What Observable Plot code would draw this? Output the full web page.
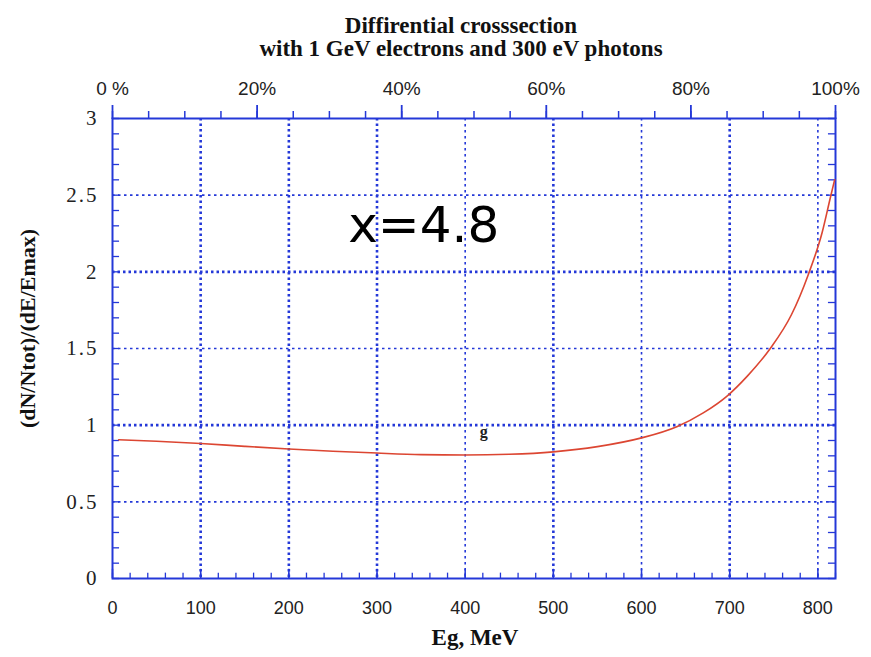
<!DOCTYPE html>
<html><head><meta charset="utf-8">
<script src="https://cdn.jsdelivr.net/npm/d3@7"></script>
<script src="https://cdn.jsdelivr.net/npm/@observablehq/plot@0.6"></script>
<style>
body{margin:0;background:#fff}
g[aria-label="y-axis tick label"] text{letter-spacing:2px}
</style>
</head><body><div id="chart"></div>
<script>
const titleLines = ["Diffirential crosssection", "with 1 GeV electrons and 300 eV photons"];
const xTitle = "Eg, MeV";
const yTitle = "(dN/Ntot)/(dE/Emax)";
const emax = 820;
// curve: Eg (MeV) and (dN/Ntot)/(dE/Emax)
const energy = [7, 50, 100, 150, 200, 250, 300, 350, 400, 450, 500, 550, 600, 640, 670, 697, 720, 746, 770, 789, 805, 814, 819];
const spectrum = [0.905, 0.895, 0.88, 0.862, 0.845, 0.83, 0.818, 0.808, 0.805, 0.81, 0.826, 0.86, 0.917, 0.99, 1.08, 1.19, 1.32, 1.5, 1.72, 1.98, 2.26, 2.48, 2.6];
const xTicks = [0, 100, 200, 300, 400, 500, 600, 700, 800];
const xTickLabels = ["0", "100", "200", "300", "400", "500", "600", "700", "800"];
const yTicks = [0, 0.5, 1, 1.5, 2, 2.5, 3];
const yTickLabels = ["0", "0.5", "1", "1.5", "2", "2.5", "3"];
const pctTicks = [0, 20, 40, 60, 80, 100];
const pctLabels = ["0 %", "20%", "40%", "60%", "80%", "100%"];
const gridXBold = [100, 200, 300, 500, 700];
const gridXThin = [400, 600, 800];
const gridYBold = [1, 2];
const gridYThin = [0.5, 1.5, 2.5];
const annotations = [{x: 353, y: 2.3, text: "x=4.8"}];
const curveLabel = [{x: 421, y: 0.955, text: "g"}];

const curve = energy.map((e, i) => ({e, v: spectrum[i]}));
const xMinor = d3.range(0, 821, 20);
const yMinor = d3.range(0, 3.001, 0.1).map(d => +d.toFixed(1));
const pctMinor = d3.range(0, 101, 5).map(p => p / 100 * emax);
const pctMajor = pctTicks.map(p => p / 100 * emax);

const blue = "#2438d8";
const serif = "'Liberation Serif', 'DejaVu Serif', serif";
const sans = "'Liberation Sans', Arial, sans-serif";

const chart = Plot.plot({
  width: 871,
  height: 657,
  marginLeft: 112,
  marginRight: 36,
  marginTop: 118,
  marginBottom: 79,
  style: {background: "#fff", color: "#222"},
  x: {domain: [0, emax]},
  y: {domain: [0, 3]},
  marks: [
    Plot.ruleX(gridXBold, {x: d => d, stroke: blue, strokeWidth: 2.6, strokeDasharray: "2.5,3"}),
    Plot.ruleX(gridXThin, {x: d => d, stroke: blue, strokeWidth: 1.6, strokeDasharray: "2.5,3.5"}),
    Plot.ruleY(gridYBold, {y: d => d, stroke: blue, strokeWidth: 2.6, strokeDasharray: "2.5,3"}),
    Plot.ruleY(gridYThin, {y: d => d, stroke: blue, strokeWidth: 1.6, strokeDasharray: "2.5,3.5"}),
    // inward ticks on bottom
    Plot.ruleX(xMinor, {x: d => d, y1: 0, y2: 0.035, stroke: blue, strokeWidth: 1.3}),
    Plot.ruleX(xTicks, {x: d => d, y1: 0, y2: 0.06, stroke: blue, strokeWidth: 1.5}),
    // inward ticks on left and right
    Plot.ruleY(yMinor, {y: d => d, x1: 0, x2: 8, stroke: blue, strokeWidth: 1.3}),
    Plot.ruleY(yMinor, {y: d => d, x1: emax - 8, x2: emax, stroke: blue, strokeWidth: 1.3}),
    // top ticks (outward)
    Plot.axisX(pctMinor, {anchor: "top", tickSize: 8, tickFormat: () => "", stroke: blue, strokeWidth: 1.5, label: null}),
    Plot.axisX(pctMajor, {anchor: "top", tickSize: 14, tickPadding: 10, stroke: blue, strokeWidth: 1.8,
      tickFormat: (d, i) => pctLabels[i], fontSize: 19, fontFamily: sans, label: null}),
    // bottom labels
    Plot.axisX(xTicks, {anchor: "bottom", tickSize: 0, tickPadding: 23,
      tickFormat: (d, i) => xTickLabels[i], fontSize: 18, fontFamily: sans, label: null}),
    // left labels
    Plot.axisY(yTicks, {anchor: "left", tickSize: 0, tickPadding: 14,
      tickFormat: (d, i) => yTickLabels[i], fontSize: 21, fontFamily: serif, label: null}),
    Plot.frame({stroke: blue, strokeWidth: 2}),
    Plot.line(curve, {x: "e", y: "v", stroke: "#dc4632", strokeWidth: 1.6, curve: "monotone-x"}),
    Plot.text(annotations, {x: "x", y: "y", text: "text", fontSize: 50, fontFamily: "'DejaVu Sans', sans-serif", fill: "#000"}),
    Plot.text(curveLabel, {x: "x", y: "y", text: "text", fontSize: 16, fontWeight: "bold", fontFamily: serif, fill: "#222"}),
    // titles
    Plot.text([titleLines[0]], {frameAnchor: "top", text: d => d, dx: -13, dy: -102, fontSize: 23, fontWeight: "bold", fontFamily: serif, fill: "#111"}),
    Plot.text([titleLines[1]], {frameAnchor: "top", text: d => d, dx: -13, dy: -79, fontSize: 23, fontWeight: "bold", fontFamily: serif, fill: "#111"}),
    Plot.text([xTitle], {frameAnchor: "bottom", text: d => d, dx: 1, dy: 66, fontSize: 23, fontWeight: "bold", fontFamily: serif, fill: "#111"}),
    Plot.text([yTitle], {frameAnchor: "left", textAnchor: "middle", text: d => d, rotate: -90, dx: -85, dy: -20, fontSize: 22, fontWeight: "bold", fontFamily: serif, fill: "#111"})
  ]
});
document.getElementById("chart").append(chart);
</script>
</body></html>
